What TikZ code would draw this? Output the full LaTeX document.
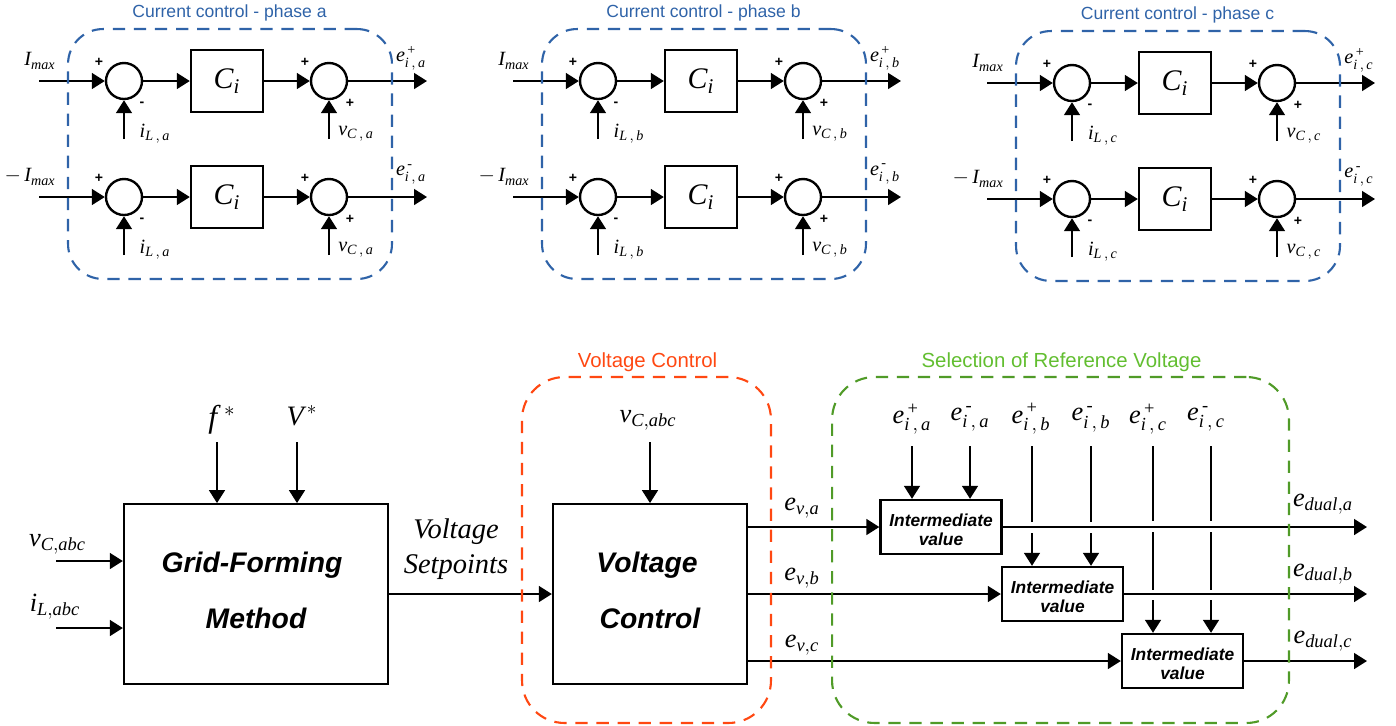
\documentclass[tikz,border=0pt]{standalone}
\usepackage{amsmath}
\usepackage{fontspec}
\setmainfont{Liberation Serif}
\setsansfont{Liberation Sans}
\usetikzlibrary{arrows.meta}
\definecolor{ccblue}{RGB}{47,99,168}
\definecolor{vcred}{RGB}{255,72,18}
\definecolor{selgreen}{RGB}{80,155,40}
\definecolor{seltext}{RGB}{98,190,48}
\tikzset{
  sigline/.style={draw=black,line width=1.25pt},
  sigarrow/.style={sigline,-{Triangle[length=7.4pt,width=9pt]}},
  boxline/.style={draw=black,line width=1.35pt,inner sep=0pt,align=center},
  sumcirc/.style={boxline,circle,minimum size=0.72cm},
  cibox/.style={boxline,rectangle,minimum width=1.44cm,minimum height=1.24cm,font=\fontsize{17}{20}\selectfont},
  mainbox/.style={boxline,rectangle,font=\sffamily\bfseries\itshape\fontsize{16.1}{32}\selectfont},
  interbox/.style={boxline,rectangle,minimum width=2.42cm,minimum height=1.08cm,font=\sffamily\bfseries\itshape\fontsize{9.9}{10.8}\selectfont},
  groupbox/.style={line width=1.2pt,rounded corners=0.85cm,dash pattern=on 7pt off 5pt},
  grouphead/.style={font=\sffamily\fontsize{10}{12}\selectfont},
  bighead/.style={font=\sffamily\fontsize{11.6}{14}\selectfont},
  signtxt/.style={font=\sffamily\bfseries\fontsize{8}{9}\selectfont,inner sep=0pt},
  smalllbl/.style={font=\fontsize{11.5}{13}\selectfont,inner sep=0pt},
  biglbl/.style={font=\fontsize{15}{17}\selectfont,inner sep=0pt},
  setlbl/.style={font=\itshape\fontsize{16.2}{20}\selectfont,inner sep=0pt,align=center},
}
\newcommand{\sub}[1]{\mathit{#1}}
\newcommand{\ccrow}[7]{%
  \coordinate (in#1#2) at (39,#3);
  \node[sumcirc] (sumA#1#2) at (124,#3) {};
  \node[cibox] (ci#1#2) at (227,#3) {$\sub{C}_{\sub{i}}$};
  \node[sumcirc] (sumB#1#2) at (329,#3) {};
  \coordinate (out#1#2) at (427,#3);
  \coordinate (fbA#1#2) at (124,#3+58);
  \coordinate (fbB#1#2) at (329,#3+58);
  \draw[sigarrow] (in#1#2) -- (sumA#1#2);
  \draw[sigarrow] (sumA#1#2) -- (ci#1#2);
  \draw[sigarrow] (ci#1#2) -- (sumB#1#2);
  \draw[sigarrow] (sumB#1#2) -- (out#1#2);
  \draw[sigarrow] (fbA#1#2) -- (sumA#1#2);
  \draw[sigarrow] (fbB#1#2) -- (sumB#1#2);
  \node[signtxt] (sgA#1#2) at (99,#3-19) {+};
  \node[signtxt] (sgB#1#2) at (142,#3+23) {-};
  \node[signtxt] (sgC#1#2) at (305,#3-19) {+};
  \node[signtxt] (sgD#1#2) at (350,#3+22) {+};
  \node[smalllbl,anchor=east] (lI#1#2) at (#4,#3-20) {$#5\sub{I}_{\sub{max}}$};
  \node[smalllbl] (lE#1#2) at (411,#3-23) {$\sub{e}_{\sub{i}\,,\,\sub{#6}}^{\,#7}$};
  \node[smalllbl] (lL#1#2) at (155,#3+53) {$\sub{i}_{\sub{L}\,,\,\sub{#6}}$};
  \node[smalllbl] (lV#1#2) at (356,#3+53) {$\sub{v}_{\sub{C}\,,\,\sub{#6}}$};
}
\newcommand{\ccgroup}[3]{%
  \begin{scope}[shift={(#2,#3)}]
    \ccrow{#1}{p}{81}{56}{}{#1}{\text{+}}
    \ccrow{#1}{n}{197}{56}{-\,}{#1}{\text{-}}
    \node[draw=ccblue,groupbox,rounded corners=0.7cm,minimum width=6.48cm,minimum height=5cm] (grp#1) at (230,154) {};
    \node[grouphead,text=ccblue] (head#1) at (229.5,13) {Current control - phase #1};
  \end{scope}%
}
\newcommand{\eref}[5]{%
  \node[biglbl] (lab#1) at (#2,419) {$\sub{e}_{\sub{i}\,,\,\sub{#3}}^{\,\text{#4}}$};
  \coordinate (top#1) at (#5,446);
}
\begin{document}
\begin{tikzpicture}[x=0.02cm,y=-0.02cm]
  \useasboundingbox (0,0) rectangle (1396,725);
  % current control groups
  \ccgroup{a}{0}{0}
  \ccgroup{b}{474}{0}
  \ccgroup{c}{948}{2}
  % grid-forming part
  \node[mainbox,minimum width=5.28cm,minimum height=3.59cm] (gfm) at (256,594) {Grid-Forming\hspace*{4.5pt}\\Method\rule[-4pt]{0pt}{0pt}};
  \node[mainbox,minimum width=3.88cm,minimum height=3.59cm] (vctl) at (650,594) {Voltage\hspace*{3.4pt}\\Control\rule[-4pt]{0pt}{0pt}};
  \coordinate (invc) at (56,561);
  \coordinate (inil) at (56,628);
  \coordinate (inf) at (217,442);
  \coordinate (inv) at (297,442);
  \coordinate (invabc) at (650,442);
  \draw[sigarrow] (invc) -- (invc -| gfm.west);
  \draw[sigarrow] (inil) -- (inil -| gfm.west);
  \draw[sigarrow] (inf) -- (inf |- gfm.north);
  \draw[sigarrow] (inv) -- (inv |- gfm.north);
  \draw[sigarrow] (gfm.east) -- (vctl.west);
  \draw[sigarrow] (invabc) -- (vctl.north);
  \node[biglbl] (lvc) at (57.5,544) {$\sub{v}_{\sub{C,abc}}$};
  \node[biglbl] (lil) at (55,607) {$\sub{i}_{\sub{L,abc}}$};
  \node[biglbl,font=\fontsize{18}{20}\selectfont] (lf) at (222,420) {$\sub{f}^{\,\,*}$};
  \node[biglbl,font=\fontsize{16}{20}\selectfont] (lv) at (302,416) {$\sub{V}^{\,*}$};
  \node[setlbl] (lset) at (456,549) {Voltage\\Setpoints};
  \node[biglbl] (lvabc) at (648,420) {$\sub{v}_{\sub{C,abc}}$};
  % intermediate value blocks
  \node[interbox] (ivA) at (941,527) {\rule{0pt}{10pt}Intermediate\\value};
  \node[interbox] (ivB) at (1062.5,594) {\rule{0pt}{10pt}Intermediate\\value};
  \node[interbox] (ivC) at (1182.5,661) {\rule{0pt}{10pt}Intermediate\\value};
  \coordinate (vA) at (747,527);
  \coordinate (vB) at (747,594);
  \coordinate (vC) at (747,661);
  \coordinate (dualA) at (1367,527);
  \coordinate (dualB) at (1367,594);
  \coordinate (dualC) at (1367,661);
  \draw[sigarrow] (vA) -- (ivA.west);
  \draw[sigarrow] (vB) -- (ivB.west);
  \draw[sigarrow] (vC) -- (ivC.west);
  \draw[sigarrow] (ivA.east) -- (dualA);
  \draw[sigarrow] (ivB.east) -- (dualB);
  \draw[sigarrow] (ivC.east) -- (dualC);
  \node[biglbl] (lva) at (802,508) {$\sub{e}_{\sub{v,a}}$};
  \node[biglbl] (lvb) at (802,578) {$\sub{e}_{\sub{v,b}}$};
  \node[biglbl] (lvcc) at (802,645) {$\sub{e}_{\sub{v,c}}$};
  \node[biglbl] (lda) at (1323,504) {$\sub{e}_{\sub{dual,a}}$};
  \node[biglbl] (ldb) at (1323,574) {$\sub{e}_{\sub{dual,b}}$};
  \node[biglbl] (ldc) at (1323,641) {$\sub{e}_{\sub{dual,c}}$};
  % references with gaps where they pass the horizontal lines
  \eref{Ap}{912}{a}{+}{912}\eref{An}{970}{a}{-}{970}
  \eref{Bp}{1031}{b}{+}{1032}\eref{Bn}{1091}{b}{-}{1091}
  \eref{Cp}{1148}{c}{+}{1153}\eref{Cn}{1206}{c}{-}{1211}
  \draw[sigarrow] (topAp) -- (topAp |- ivA.north);
  \draw[sigarrow] (topAn) -- (topAn |- ivA.north);
  \foreach \n in {Bp,Bn}{
    \coordinate (gapa\n) at (top\n |- 0,522);
    \coordinate (gapb\n) at (top\n |- 0,533);
    \draw[sigline] (top\n) -- (gapa\n);
    \draw[sigarrow] (gapb\n) -- (gapb\n |- ivB.north);
  }
  \foreach \n in {Cp,Cn}{
    \coordinate (gapa\n) at (top\n |- 0,521);
    \coordinate (gapb\n) at (top\n |- 0,532);
    \coordinate (gapc\n) at (top\n |- 0,590);
    \coordinate (gapd\n) at (top\n |- 0,600);
    \draw[sigline] (top\n) -- (gapa\n);
    \draw[sigline] (gapb\n) -- (gapc\n);
    \draw[sigarrow] (gapd\n) -- (gapd\n |- ivC.north);
  }
  % dashed groups
  \node[draw=vcred,groupbox,minimum width=4.98cm,minimum height=6.92cm] (grpv) at (646.5,550) {};
  \node[draw=selgreen,groupbox,minimum width=9.14cm,minimum height=6.92cm] (grps) at (1060.5,550) {};
  \node[bighead,text=vcred] (headv) at (647.5,362) {Voltage Control};
  \node[bighead,text=seltext] (heads) at (1061.5,362) {Selection of Reference Voltage};
\end{tikzpicture}
\end{document}
